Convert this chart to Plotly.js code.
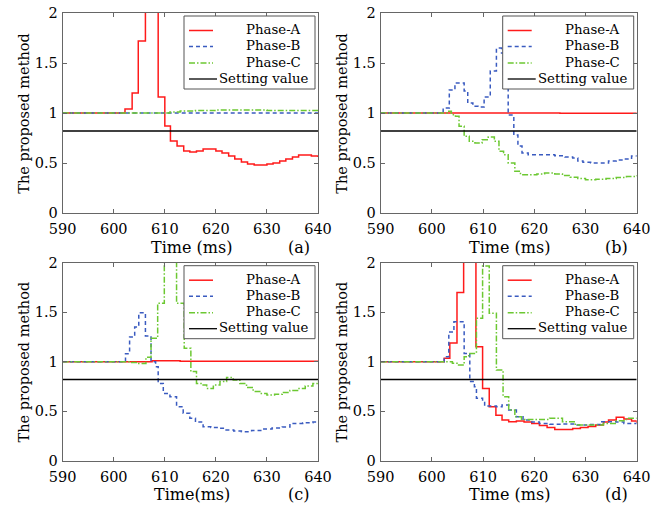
<!DOCTYPE html>
<html>
<head>
<meta charset="utf-8">
<script src="https://cdn.plot.ly/plotly-3.0.1.min.js"></script>
<style>html,body{margin:0;padding:0;background:#fff}#chart{width:655px;height:510px}</style>
</head>
<body>
<div id="chart"></div>
<script>
// ---------- data ----------
const settingX = [590, 640];
const settingY = [0.82, 0.82];

// panel (a)
const aA_t = [590, 602.2, 603.6, 604.8, 606.2, 608.7, 610.0, 611.1, 612.4, 613.7, 614.9, 616.2, 617.5, 618.7, 620.0, 621.2, 622.5, 623.7, 625.0, 626.2, 627.5, 628.7, 630.0, 631.2, 632.5, 633.7, 635.0, 636.2, 637.5, 638.7, 640];
const aA_v = [1.0, 1.04, 1.2, 1.72, 2.6, 1.16, 0.87, 0.72, 0.67, 0.62, 0.61, 0.62, 0.64, 0.64, 0.62, 0.60, 0.57, 0.54, 0.51, 0.49, 0.48, 0.48, 0.49, 0.50, 0.52, 0.54, 0.56, 0.58, 0.58, 0.57, 0.56];
const aB_t = [590, 640];
const aB_v = [1.0, 1.0];
const aC_t = [590, 611, 613, 616, 620, 625, 630, 635, 640];
const aC_v = [1.0, 1.01, 1.02, 1.025, 1.03, 1.03, 1.025, 1.025, 1.03];

// panel (b)
const bA_t = [590, 610, 625, 640];
const bA_v = [1.0, 1.0, 0.997, 0.995];
const bB_t = [590, 602.2, 603.4, 604.5, 606.3, 607.0, 608.0, 609.0, 610.2, 611.4, 612.6, 613.6, 614.0, 614.9, 616.0, 616.8, 617.6, 618.8, 622, 624, 626, 627.5, 628.5, 629.5, 631, 633, 634.5, 636, 637.5, 639, 640];
const bB_v = [1.0, 1.05, 1.23, 1.3, 1.22, 1.1, 1.067, 1.06, 1.16, 1.42, 1.65, 1.6, 1.37, 0.98, 0.78, 0.67, 0.6, 0.583, 0.583, 0.573, 0.56, 0.55, 0.52, 0.507, 0.5, 0.5, 0.52, 0.53, 0.54, 0.57, 0.567];
const bC_t = [590, 603.0, 603.8, 604.6, 605.3, 606.3, 607.3, 608.4, 609.8, 611.0, 612.2, 613.1, 614.0, 614.9, 616.2, 617.3, 619, 620.5, 622, 624, 625.5, 627, 628.5, 630, 632, 634, 636, 638, 640];
const bC_v = [1.0, 1.017, 0.983, 0.967, 0.867, 0.767, 0.717, 0.70, 0.733, 0.76, 0.717, 0.617, 0.583, 0.50, 0.417, 0.383, 0.383, 0.39, 0.40, 0.39, 0.375, 0.357, 0.345, 0.333, 0.337, 0.345, 0.355, 0.365, 0.377];

// panel (c)
const cA_t = [590, 607.5, 613, 640];
const cA_v = [1.0, 1.01, 1.005, 1.005];
const cB_t = [590, 602.3, 603.1, 604.1, 604.9, 606.2, 607.3, 608.2, 608.7, 609.7, 611, 612.3, 613.6, 614.9, 616, 617.5, 619, 620.5, 622, 623.5, 625, 627, 629, 631, 633, 634.5, 637, 639, 640];
const cB_v = [1.0, 1.08, 1.25, 1.35, 1.495, 1.26, 1.0, 0.95, 0.78, 0.68, 0.646, 0.545, 0.48, 0.43, 0.39, 0.343, 0.335, 0.327, 0.31, 0.30, 0.293, 0.305, 0.32, 0.33, 0.34, 0.377, 0.384, 0.39, 0.394];
const cC_t = [590, 603, 604.6, 606.3, 607.3, 608.6, 609.9, 612.3, 613.8, 615.1, 616.2, 617.5, 618.2, 619.5, 620.8, 622.1, 623.4, 624.7, 626, 627.3, 628.6, 630, 631.5, 633, 634.5, 636, 637.5, 639, 640];
const cC_v = [1.0, 0.993, 0.983, 1.044, 1.236, 1.59, 2.6, 1.59, 1.135, 0.9, 0.78, 0.764, 0.73, 0.764, 0.80, 0.84, 0.815, 0.78, 0.74, 0.70, 0.68, 0.663, 0.67, 0.69, 0.71, 0.73, 0.754, 0.78, 0.80];

// panel (d)
const dA_t = [590, 602.4, 603.5, 604.9, 606.2, 608.6, 609.9, 611.2, 612.5, 613.7, 615, 616.5, 618, 619.5, 621, 622.5, 624, 626, 627.5, 629, 630.5, 632, 633.5, 634.5, 636, 637.5, 639, 640];
const dA_v = [1.0, 1.034, 1.19, 1.70, 2.6, 1.15, 0.73, 0.545, 0.46, 0.41, 0.394, 0.40, 0.39, 0.377, 0.355, 0.335, 0.316, 0.316, 0.325, 0.335, 0.345, 0.36, 0.39, 0.41, 0.438, 0.42, 0.40, 0.384];
const dB_t = [590, 602.4, 603.3, 604.3, 606.3, 607.4, 608.3, 608.7, 609.9, 610.3, 612.6, 613.7, 615, 616.5, 617.8, 619.5, 621, 623, 625.5, 628, 631, 633, 636, 637.5, 640];
const dB_v = [1.0, 1.05, 1.30, 1.404, 1.084, 0.80, 0.747, 0.63, 0.6, 0.552, 0.545, 0.562, 0.512, 0.444, 0.41, 0.39, 0.377, 0.367, 0.37, 0.36, 0.365, 0.394, 0.39, 0.377, 0.377];
const dC_t = [590, 603, 604, 604.9, 606.3, 607.2, 608.7, 609.9, 611.2, 612.6, 613.9, 615, 616.2, 617.5, 620.5, 623, 625.5, 628, 631, 633.5, 636, 638, 640];
const dC_v = [1.0, 1.0, 0.985, 0.966, 1.05, 1.084, 1.438, 1.966, 1.49, 0.916, 0.646, 0.512, 0.444, 0.417, 0.417, 0.428, 0.394, 0.36, 0.36, 0.377, 0.404, 0.428, 0.428];

const seriesNames = ['Phase-A', 'Phase-B', 'Phase-C', 'Setting value'];
const panelLabels = ['(a)', '(b)', '(c)', '(d)'];
const xTitles = ['Time (ms)', 'Time (ms)', 'Time(ms)', 'Time (ms)'];
const yTitle = 'The proposed method';
const xTicks = [590, 600, 610, 620, 630, 640];
const yTicks = [0, 0.5, 1, 1.5, 2];

// ---------- styling ----------
const W = 655, H = 510;
const FONT = 'DejaVu Serif';
const colors = ['#ff1a1a', '#3a5bc0', '#6cc832', '#000000'];
const dashes = ['solid', '4px,3px', '6px,2px,1.5px,2px', 'solid'];
const widths = [1.5, 1.5, 1.5, 1.3];
const px = x => x / W;
const py = y => 1 - y / H;

// panel pixel boxes [left, right, top, bottom]
const boxes = [
  [62.7, 318, 13, 213],
  [380.7, 636.7, 13, 213],
  [62.7, 318, 262.7, 460.7],
  [380.7, 636.7, 262.7, 460.7]
];

const panelData = [
  [[aA_t, aA_v], [aB_t, aB_v], [aC_t, aC_v]],
  [[bA_t, bA_v], [bB_t, bB_v], [bC_t, bC_v]],
  [[cA_t, cA_v], [cB_t, cB_v], [cC_t, cC_v]],
  [[dA_t, dA_v], [dB_t, dB_v], [dC_t, dC_v]]
];

const traces = [];
const layout = {
  width: W, height: H,
  margin: {l: 0, r: 0, t: 0, b: 0},
  paper_bgcolor: '#fff', plot_bgcolor: '#fff',
  showlegend: false,
  font: {family: FONT, size: 14.5, color: '#000'},
  shapes: [], annotations: []
};

boxes.forEach((b, i) => {
  const n = i + 1;
  const xa = n === 1 ? 'x' : 'x' + n;
  const ya = n === 1 ? 'y' : 'y' + n;
  panelData[i].forEach((s, k) => {
    traces.push({
      x: s[0], y: s[1], type: 'scatter', mode: 'lines', name: seriesNames[k],
      xaxis: xa, yaxis: ya,
      line: {color: colors[k], width: widths[k], dash: dashes[k], shape: 'hv'}
    });
  });
  traces.push({
    x: settingX, y: settingY, type: 'scatter', mode: 'lines', name: seriesNames[3],
    xaxis: xa, yaxis: ya, line: {color: colors[3], width: widths[3]}
  });
  const axCommon = {
    showline: true, linecolor: '#666', linewidth: 1, mirror: 'ticks',
    ticks: 'inside', ticklen: 4, tickcolor: '#666', tickwidth: 1,
    showgrid: false, zeroline: false,
    tickfont: {family: FONT, size: 14.5, color: '#000'}
  };
  layout['xaxis' + (n === 1 ? '' : n)] = Object.assign({}, axCommon, {
    domain: [px(b[0]), px(b[1])], anchor: ya, range: [590, 640],
    tickvals: xTicks, ticktext: xTicks.map(String), ticklabelstandoff: 3
  });
  layout['yaxis' + (n === 1 ? '' : n)] = Object.assign({}, axCommon, {
    domain: [py(b[3]), py(b[2])], anchor: xa, range: [0, 2],
    tickvals: yTicks, ticktext: ['0', '0.5', '1', '1.5', '2'], ticklabelstandoff: 1
  });

  layout.annotations.push({
    text: xTitles[i], xref: 'paper', yref: 'paper', showarrow: false,
    x: px(b[0] + 129), y: py(b[3] + 34), xanchor: 'center', yanchor: 'middle',
    font: {family: FONT, size: 16, color: '#000'}
  });
  layout.annotations.push({
    text: panelLabels[i], xref: 'paper', yref: 'paper', showarrow: false,
    x: px(b[0] + 236), y: py(b[3] + 34), xanchor: 'center', yanchor: 'middle',
    font: {family: FONT, size: 16, color: '#000'}
  });
  layout.annotations.push({
    text: yTitle, xref: 'paper', yref: 'paper', showarrow: false, textangle: -90,
    x: px(b[0] - 39), y: py((b[2] + b[3]) / 2), xanchor: 'center', yanchor: 'middle',
    font: {family: FONT, size: 14.5, color: '#000'}
  });

  const L = b[1] - 134, R = b[1] - 3, T = b[2] + 3, B = b[2] + 76;
  layout.shapes.push({
    type: 'rect', xref: 'paper', yref: 'paper',
    x0: px(L), x1: px(R), y0: py(B), y1: py(T),
    line: {color: '#555', width: 1}, fillcolor: '#fff', layer: 'above'
  });
  const rows = [T + 13.5, T + 29.5, T + 46, T + 62];
  for (let k = 0; k < 4; k++) {
    layout.shapes.push({
      type: 'line', xref: 'paper', yref: 'paper',
      x0: px(L + 5), x1: px(L + (k === 3 ? 33 : 29)), y0: py(rows[k] + 1), y1: py(rows[k] + 1),
      line: {color: colors[k], width: widths[k], dash: dashes[k]}, layer: 'above'
    });
    layout.annotations.push({
      text: seriesNames[k], xref: 'paper', yref: 'paper', showarrow: false,
      x: px(L + (k === 3 ? 33 : 60)), y: py(rows[k]), xanchor: 'left', yanchor: 'middle',
      font: {family: FONT, size: 13.3, color: '#000'}
    });
  }
});

Plotly.newPlot('chart', traces, layout, {displayModeBar: false, staticPlot: true});
</script>
</body>
</html>
